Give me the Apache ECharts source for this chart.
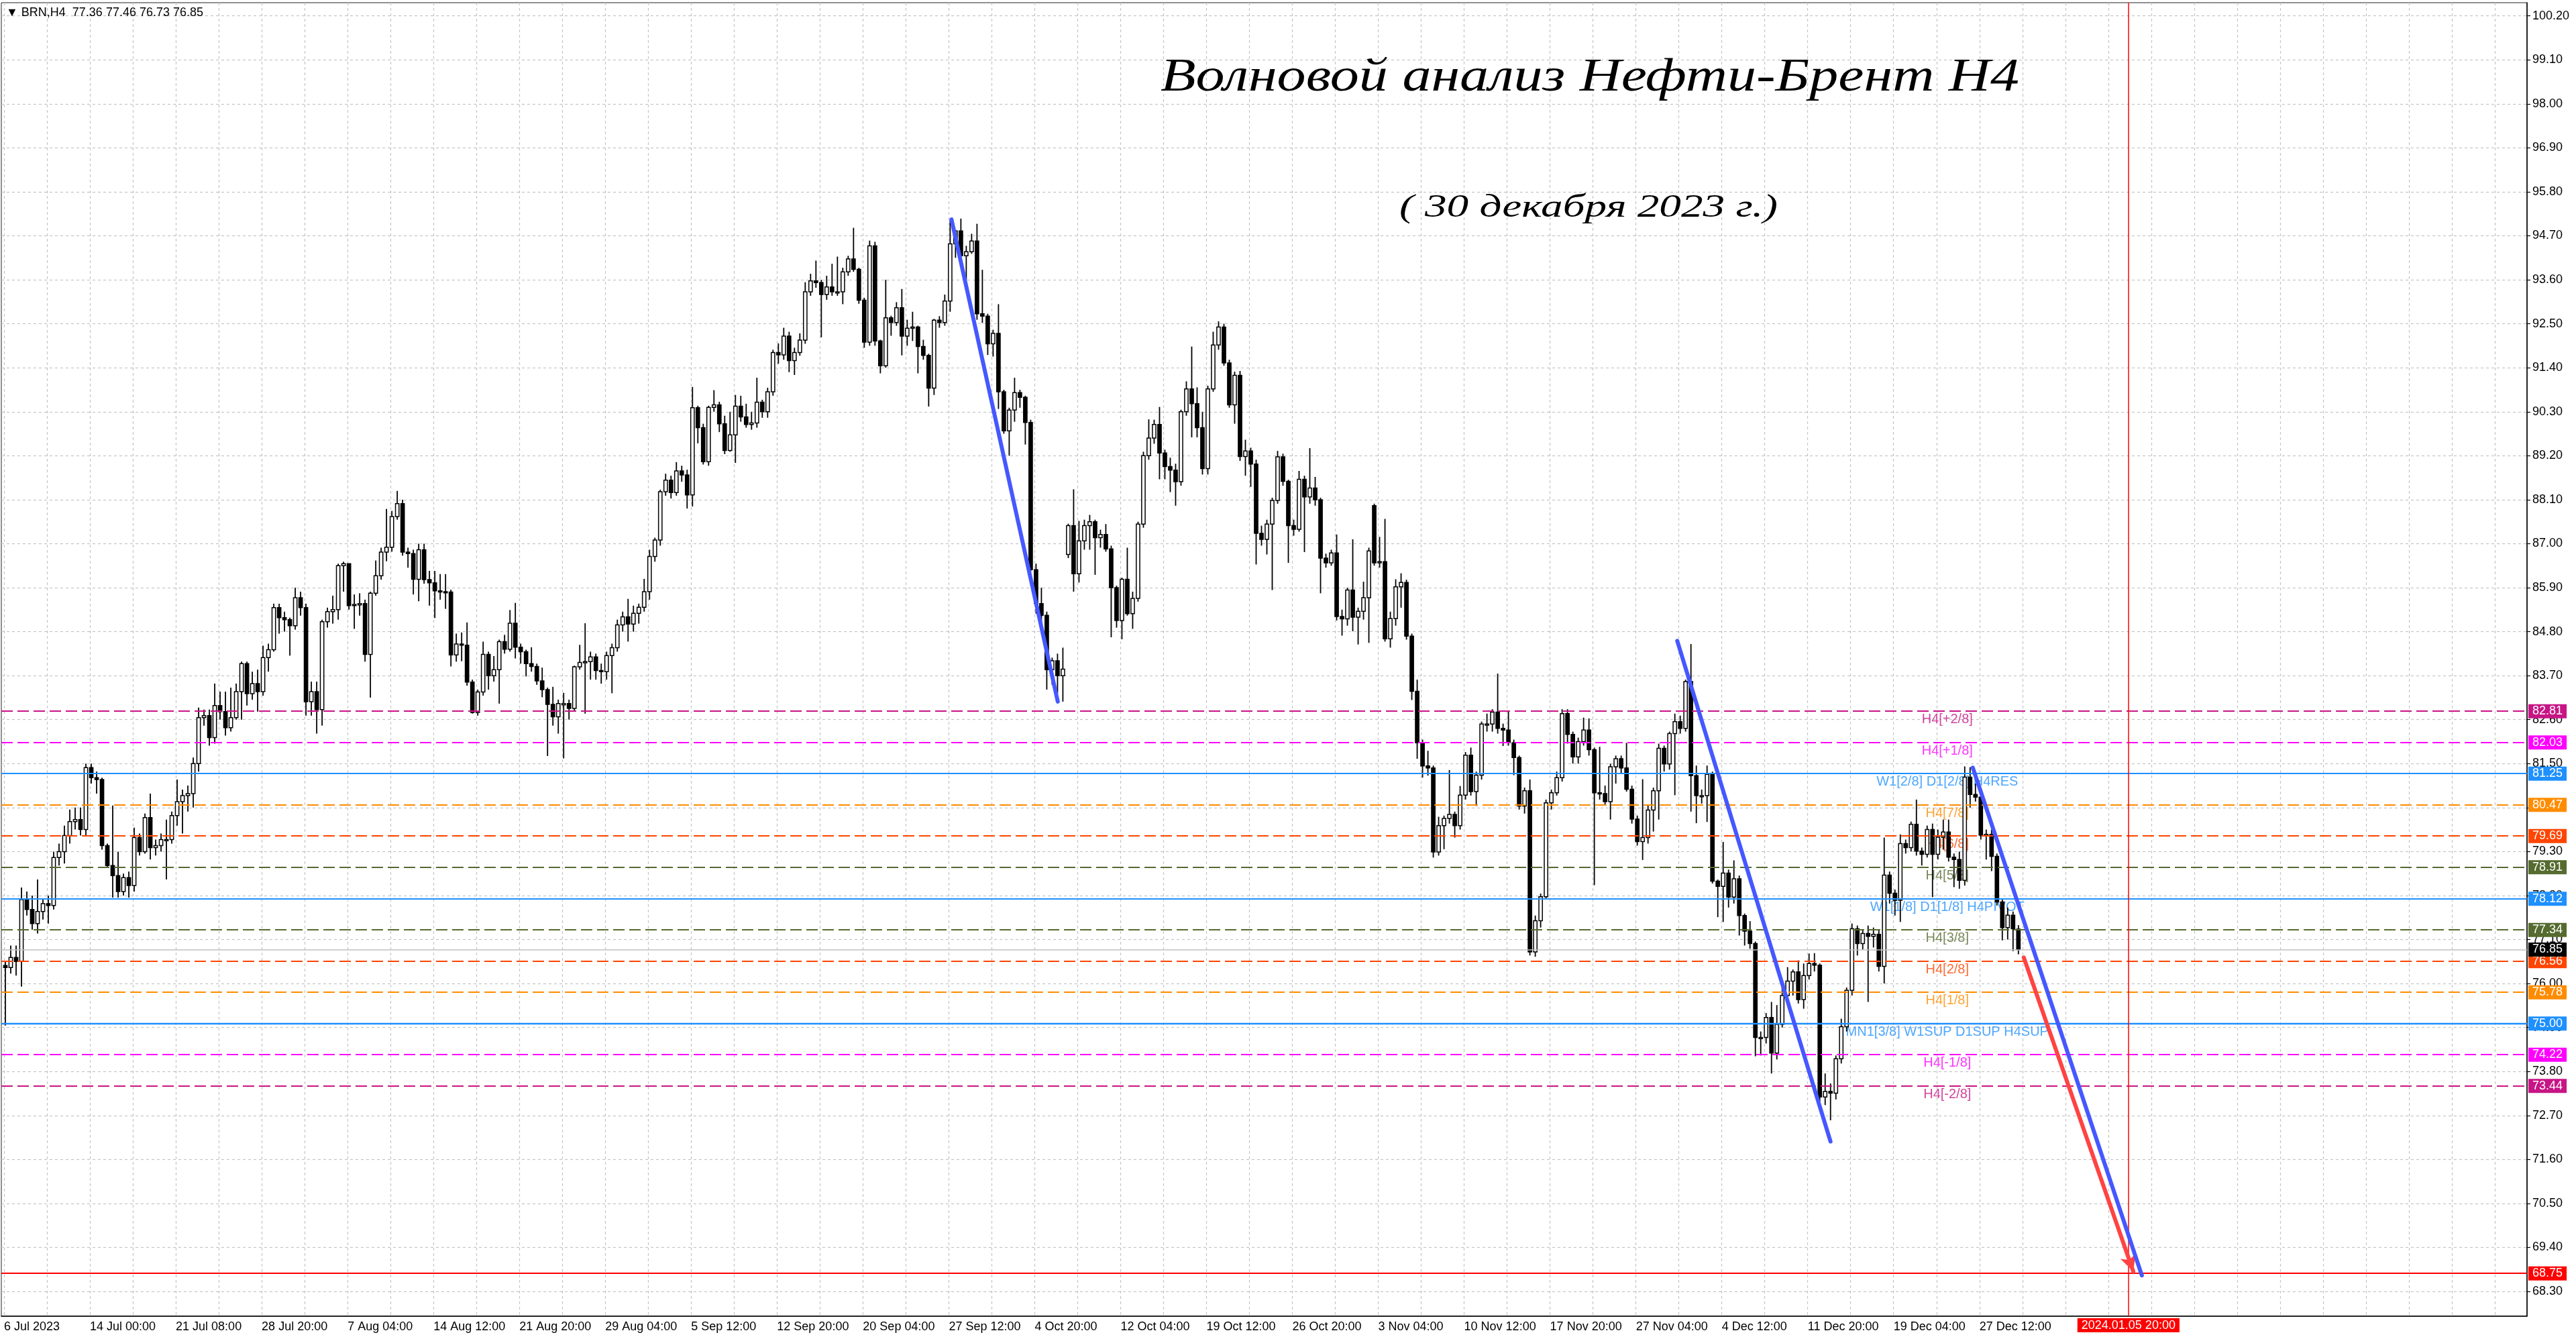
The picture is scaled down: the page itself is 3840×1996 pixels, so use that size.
<!DOCTYPE html>
<html><head><meta charset="utf-8">
<script src="https://cdn.jsdelivr.net/npm/echarts/dist/echarts.min.js"></script>
<style>html,body{margin:0;padding:0;background:#fff}#chart{width:3840px;height:1996px}</style>
</head><body><div id="chart"></div>
<script>
// ---------- texts ----------
const symbolInfo = '\u25BC BRN,H4  77.36 77.46 76.73 76.85';
const titleMain = 'Волновой анализ Нефти-Брент H4';
const titleDate = '( 30 декабря 2023 г.)';

// ---------- time axis (H4 bar index) ----------
const timeLabels = ['6 Jul 2023','14 Jul 00:00','21 Jul 08:00','28 Jul 20:00','7 Aug 04:00','14 Aug 12:00',
  '21 Aug 20:00','29 Aug 04:00','5 Sep 12:00','12 Sep 20:00','20 Sep 04:00','27 Sep 12:00','4 Oct 20:00',
  '12 Oct 04:00','19 Oct 12:00','26 Oct 20:00','3 Nov 04:00','10 Nov 12:00','17 Nov 20:00','27 Nov 04:00',
  '4 Dec 12:00','11 Dec 20:00','19 Dec 04:00','27 Dec 12:00'];
const barsPerLabel = 32;
const barsPerGrid = 16;
const barsPerCandle = 2;
const forecastBar = 791.5;
const forecastLabel = '2024.01.05 20:00';

// ---------- price axis ----------
const priceTicks = [68.30,69.40,70.50,71.60,72.70,73.80,74.90,76.00,77.10,78.20,79.30,80.40,81.50,82.60,83.70,
  84.80,85.90,87.00,88.10,89.20,90.30,91.40,92.50,93.60,94.70,95.80,96.90,98.00,99.10,100.20];

// ---------- candles [open, close, low, high] ----------
const candles = [
[76.45,76.4,74.95,76.55],[76.4,76.65,76.25,76.95],[76.65,76.55,76.2,76.95],[76.55,78.1,75.92,78.4],[78.1,77.85,77.7,78.3],
[77.85,77.5,77.35,78.2],[77.5,77.8,77.25,78.6],[77.8,78.0,77.6,78.1],[78.0,77.95,77.5,78.2],[77.95,79.15,77.85,79.3],
[79.15,79.3,78.95,79.5],[79.3,79.7,79.0,79.95],[79.7,80.05,79.5,80.35],[80.05,80.1,79.85,80.4],[80.1,79.85,79.7,80.4],
[79.85,81.4,79.7,81.5],[81.4,81.15,81.0,81.5],[81.15,81.1,80.75,81.3],[81.1,79.45,79.35,81.15],[79.45,78.95,78.9,79.5],
[78.95,78.7,78.15,80.45],[78.7,78.3,78.15,79.3],[78.3,78.65,78.2,78.75],[78.65,78.45,78.15,78.8],[78.45,79.65,78.3,79.9],
[79.65,79.3,79.2,79.75],[79.3,80.15,79.25,80.25],[80.15,79.4,79.1,80.75],[79.4,79.45,79.2,79.6],[79.45,79.6,79.3,79.75],
[79.6,79.6,78.6,80.1],[79.6,80.2,79.5,80.3],[80.2,80.55,79.95,81.1],[80.55,80.7,79.75,80.85],[80.7,80.75,80.3,80.95],
[80.75,81.5,80.4,81.65],[81.5,82.65,81.3,82.9],[82.65,82.7,82.45,82.85],[82.7,82.15,81.95,82.85],[82.15,82.95,82.0,83.5],
[82.95,82.8,82.6,83.3],[82.8,82.4,82.2,83.3],[82.4,82.65,82.3,83.4],[82.65,83.3,82.6,83.5],[83.3,84.0,82.6,84.05],
[84.0,83.25,82.95,84.05],[83.25,83.5,83.1,83.8],[83.5,83.3,82.8,83.85],[83.3,84.15,83.2,84.45],[84.15,84.35,83.8,84.5],
[84.35,85.4,84.3,85.5],[85.4,85.15,84.75,85.5],[85.15,85.1,84.8,85.3],[85.1,84.95,84.2,85.15],[84.95,85.65,84.85,85.9],
[85.65,85.4,85.2,85.8],[85.4,83.05,82.7,85.5],[83.05,83.3,82.7,83.55],[83.3,82.85,82.25,83.55],[82.85,85.05,82.45,85.1],
[85.05,85.3,84.9,85.4],[85.3,85.35,85.0,85.7],[85.35,86.45,85.1,86.5],[86.45,86.5,85.8,86.55],[86.5,85.45,85.35,86.5],
[85.45,85.48,84.87,85.73],[85.48,85.5,85.2,85.76],[85.5,84.23,84.05,85.6],[84.23,85.76,83.15,85.8],[85.76,86.2,85.7,86.58],
[86.2,86.79,86.1,86.9],[86.79,86.91,86.56,87.87],[86.91,87.68,86.8,87.82],[87.68,88.0,87.6,88.32],[88.0,86.79,86.7,88.1],
[86.79,86.75,86.4,86.9],[86.75,86.11,85.73,86.85],[86.11,86.85,85.56,87.0],[86.85,86.1,86.0,87.0],[86.1,86.02,85.45,86.32],
[86.02,85.82,85.14,86.32],[85.82,85.8,85.6,86.24],[85.8,85.79,85.37,86.24],[85.79,84.22,83.93,85.85],[84.22,84.49,84.05,84.75],
[84.49,84.46,84.06,84.78],[84.46,83.54,83.45,85.03],[83.54,82.78,82.75,83.6],[82.78,83.29,82.7,83.35],[83.29,84.23,83.2,84.55],
[84.23,83.7,83.35,84.3],[83.7,83.85,83.55,84.19],[83.85,84.55,83.0,84.6],[84.55,84.36,84.25,84.72],[84.36,85.01,84.3,85.34],
[85.01,84.41,84.13,85.52],[84.41,84.3,84.0,84.5],[84.3,84.0,83.68,84.35],[84.0,83.93,83.8,84.41],[83.93,83.57,83.47,84.0],
[83.57,83.35,83.16,83.9],[83.35,82.98,81.69,83.4],[82.98,82.67,82.45,83.42],[82.67,83.0,82.25,83.1],[83.0,83.0,81.63,83.27],
[83.0,82.88,82.6,83.1],[82.88,83.92,82.8,83.95],[83.92,84.03,83.85,84.47],[84.03,84.05,82.75,85.01],[84.05,84.17,83.6,84.3],
[84.17,83.83,83.6,84.25],[83.83,83.8,83.5,84.0],[83.8,84.2,83.6,84.3],[84.2,84.4,83.26,84.5],[84.4,84.97,84.3,85.1],
[84.97,85.17,84.8,85.3],[85.17,84.99,84.55,85.62],[84.99,85.26,84.8,85.45],[85.26,85.41,85.0,85.5],[85.41,85.8,85.3,86.12],
[85.8,86.68,85.6,86.85],[86.68,87.09,86.55,87.15],[87.09,88.3,86.95,88.35],[88.3,88.59,88.2,88.75],[88.59,88.28,88.13,88.7],
[88.28,88.82,88.2,89.04],[88.82,88.72,88.55,88.95],[88.72,88.22,87.88,88.85],[88.22,90.4,87.93,90.92],[90.4,89.9,89.51,90.45],
[89.9,89.05,88.98,90.0],[89.05,90.41,88.95,90.45],[90.41,90.47,90.3,90.84],[90.47,90.0,89.79,90.55],[90.0,89.33,89.24,90.2],
[89.33,89.72,89.3,90.3],[89.72,90.44,89.02,90.72],[90.44,90.17,90.05,90.7],[90.17,89.98,89.9,90.5],[89.98,90.02,89.85,90.3],
[90.02,90.54,89.9,91.15],[90.54,90.3,90.15,90.6],[90.3,90.8,90.15,90.9],[90.8,91.78,90.7,91.85],[91.78,91.72,91.5,92.01],
[91.72,92.19,91.6,92.4],[92.19,91.58,91.29,92.3],[91.58,91.78,91.22,91.9],[91.78,92.09,91.7,92.26],[92.09,93.3,92.0,93.54],
[93.3,93.57,93.2,93.75],[93.57,93.53,93.4,94.08],[93.53,93.23,92.16,93.6],[93.23,93.42,93.1,93.7],[93.42,93.3,93.2,94.0],
[93.3,93.3,93.2,94.18],[93.3,93.8,92.99,93.9],[93.8,94.12,93.7,94.2],[94.12,93.86,93.8,94.9],[93.86,93.09,93.0,93.9],
[93.09,92.04,91.9,93.15],[92.04,94.45,91.95,94.58],[94.45,92.07,91.95,94.55],[92.07,91.45,91.26,92.1],[91.45,92.65,91.4,93.6],
[92.65,92.53,92.2,92.7],[92.53,92.9,92.45,93.04],[92.9,92.19,91.71,93.37],[92.19,92.39,91.95,92.6],[92.39,92.42,92.07,92.8],
[92.42,91.93,91.26,92.45],[91.93,91.71,91.6,92.1],[91.71,90.89,90.43,91.75],[90.89,92.59,90.72,92.62],[92.59,92.53,92.4,92.69],
[92.53,93.07,92.45,93.23],[93.07,94.5,92.8,95.1],[94.5,94.82,94.15,94.85],[94.82,94.2,94.1,95.13],[94.2,94.3,93.6,94.45],
[94.3,94.57,94.25,94.75],[94.57,92.75,92.6,95.0],[92.75,92.69,92.52,93.85],[92.69,92.0,91.72,92.75],[92.0,92.26,91.68,92.35],
[92.26,90.8,90.37,92.99],[90.8,89.82,89.75,90.85],[89.82,90.34,89.2,90.4],[90.34,90.78,90.05,91.15],[90.78,90.66,90.4,90.85],
[90.66,90.03,89.48,90.7],[90.03,86.35,86.3,90.1],[86.35,85.5,85.25,86.5],[85.5,85.21,84.99,85.9],[85.21,83.85,83.35,85.3],
[83.85,84.07,83.47,84.15],[84.07,83.7,83.26,84.25],[83.7,83.86,83.05,84.4],[86.73,87.45,86.64,87.5],[87.45,86.25,85.8,88.36],
[86.25,87.07,86.03,87.57],[87.07,87.45,86.85,87.6],[87.45,87.55,86.85,87.72],[87.55,87.15,86.22,87.6],[87.15,87.23,86.9,87.35],
[87.23,86.87,86.8,87.49],[86.87,85.9,84.66,86.95],[85.9,85.08,84.9,85.95],[85.08,86.11,84.61,86.15],[86.11,85.25,85.2,86.9],
[85.25,85.63,84.87,85.8],[85.63,87.49,85.55,87.55],[87.49,89.2,87.4,89.3],[89.2,89.64,89.1,90.11],[89.64,89.98,89.5,90.1],
[89.98,89.27,88.61,90.42],[89.27,88.93,88.61,89.35],[88.93,88.84,88.29,89.15],[88.84,88.55,87.95,89.0],[88.55,90.3,88.45,90.35],
[90.3,90.87,90.2,91.06],[90.87,90.5,89.66,91.93],[90.5,89.9,89.66,90.91],[89.9,88.88,88.73,90.3],[88.88,90.87,88.73,90.95],
[90.87,91.97,90.8,92.3],[91.97,92.42,91.85,92.56],[92.42,91.52,91.45,92.5],[91.52,90.47,90.4,91.6],[90.47,91.21,90.0,91.3],
[91.21,89.18,89.07,91.32],[89.18,89.32,88.7,89.6],[89.32,88.99,88.42,89.4],[88.99,87.26,86.48,89.1],[87.26,87.11,86.95,87.45],
[87.11,87.49,86.73,87.6],[87.49,88.08,85.84,88.15],[88.08,89.17,88.0,89.32],[89.17,88.56,88.45,89.25],[88.56,87.45,86.52,88.6],
[87.45,87.36,87.2,87.6],[87.36,88.61,87.3,88.82],[88.61,88.17,86.79,88.7],[88.17,88.39,88.0,89.39],[88.39,88.1,87.95,88.67],
[88.1,86.64,85.76,88.15],[86.64,86.52,86.4,86.75],[86.52,86.77,86.45,86.85],[86.77,85.18,85.08,87.23],[85.18,85.12,84.7,85.35],
[85.12,85.84,84.95,85.9],[85.84,85.16,84.81,87.11],[85.16,85.31,84.48,85.4],[85.31,85.65,85.1,86.05],[85.65,86.82,84.52,86.9],
[87.95,86.52,86.45,88.0],[86.52,86.55,86.4,87.17],[86.55,84.62,84.55,87.62],[84.62,85.13,84.4,85.3],[85.13,85.92,84.95,86.11],
[85.92,86.03,85.4,86.26],[86.03,84.69,84.6,86.1],[84.69,83.31,83.09,84.75],[83.31,82.02,81.62,83.6],[82.02,81.44,81.15,82.1],
[81.44,81.39,81.2,81.82],[81.39,79.29,79.15,81.45],[79.29,79.95,79.2,80.17],[79.95,80.13,79.36,80.2],[80.13,80.23,80.0,81.34],
[80.23,79.95,79.65,80.3],[79.95,80.71,79.85,80.94],[80.71,81.71,80.6,81.79],[81.71,80.8,80.7,81.9],[80.8,81.21,80.44,81.3],
[81.21,82.49,81.1,82.55],[82.49,82.49,82.3,82.75],[82.49,82.79,82.3,82.86],[82.79,82.38,82.25,83.75],[82.38,82.34,81.94,82.5],
[82.34,82.02,81.95,82.82],[82.02,81.65,81.21,82.1],[81.65,80.44,80.35,81.7],[80.44,80.82,80.25,80.9],[80.82,76.79,76.7,81.1],
[76.79,77.57,76.67,77.7],[77.57,78.17,77.4,78.25],[78.17,80.52,78.1,80.6],[80.52,80.77,80.35,80.85],[80.77,81.15,80.7,81.3],
[81.15,82.75,81.05,82.86],[82.75,82.23,82.0,82.86],[82.23,81.67,81.5,82.3],[81.67,82.05,81.5,82.15],[82.05,82.34,81.95,82.65],
[82.34,81.85,81.7,82.63],[81.85,80.77,78.46,81.9],[80.77,80.75,80.6,81.92],[80.75,80.55,80.45,80.95],[80.55,81.42,80.1,81.5],
[81.42,81.62,81.0,81.7],[81.62,81.39,81.25,81.7],[81.39,80.86,80.8,82.02],[80.86,80.11,80.0,80.95],[80.11,79.55,79.45,80.2],
[79.55,79.65,79.09,81.11],[79.65,80.34,79.5,80.45],[80.34,80.82,79.8,80.9],[80.82,81.88,80.1,82.0],[81.88,81.49,81.3,81.95],
[81.49,82.25,81.35,82.3],[82.25,82.55,80.71,82.75],[82.55,82.38,82.25,82.7],[82.38,83.55,82.3,83.6],[83.55,81.2,80.3,84.49],
[81.2,80.7,80.01,81.45],[80.7,80.7,80.5,80.85],[80.7,81.23,80.04,81.45],[81.23,78.56,78.5,81.3],[78.56,78.43,77.66,78.6],
[78.43,78.76,77.54,79.54],[78.76,78.16,77.9,78.85],[78.16,78.62,78.0,79.08],[78.62,77.7,77.2,78.7],[77.7,77.31,76.95,77.75],
[77.31,77.0,76.87,77.56],[77.0,74.65,74.18,77.05],[74.65,74.65,74.2,74.8],[74.65,75.15,74.5,75.26],[75.15,74.26,73.75,75.54],
[74.26,74.98,74.1,75.46],[74.98,75.7,74.9,76.08],[75.7,76.06,75.6,76.41],[76.06,76.29,75.7,76.35],[76.29,75.6,75.5,76.58],
[75.6,76.2,75.37,76.5],[76.2,76.5,76.1,76.75],[76.5,76.46,76.3,76.76],[76.46,73.16,73.05,76.5],[73.16,73.3,72.96,73.75],
[73.3,73.26,72.58,73.5],[73.26,74.12,73.1,74.2],[74.12,74.92,74.0,75.12],[74.92,75.83,74.8,75.9],[75.83,77.37,75.7,77.5],
[77.37,77.0,76.7,77.45],[77.0,77.25,76.85,77.35],[77.25,77.18,75.54,77.45],[77.18,77.23,76.9,77.4],[77.23,76.43,76.3,77.35],
[76.43,78.71,76.0,79.65],[78.71,78.26,78.0,78.8],[78.26,78.08,77.7,78.35],[78.08,79.5,77.54,79.73],[79.5,79.4,79.25,79.6],
[79.4,79.98,79.3,80.05],[79.98,79.31,79.2,80.6],[79.31,79.23,78.95,79.4],[79.23,79.85,79.15,79.95],[79.85,79.23,78.16,80.0],
[79.23,79.66,79.1,79.85],[79.66,79.79,79.35,80.1],[79.79,79.16,79.05,80.1],[79.16,79.1,78.41,79.25],[79.1,78.58,78.37,79.3],
[78.58,81.16,78.45,81.43],[81.16,80.73,80.4,81.41],[80.73,80.66,80.55,81.0],[80.66,79.71,79.6,80.75],[79.71,79.73,79.1,79.85],
[79.73,79.18,78.81,79.85],[79.18,78.04,77.95,79.25],[78.04,77.4,77.08,78.1],[77.4,77.71,77.1,77.9],[77.71,77.37,76.81,77.8],
[77.36,76.85,76.73,77.46]
];

// ---------- Murrey levels ----------
const levelPrices = [82.81,82.03,81.25,80.47,79.69,78.91,78.12,77.34,76.56,75.78,75.00,74.22,73.44];
const levelNames = ['H4[+2/8]','H4[+1/8]','W1[2/8] D1[2/8] H4RES','H4[7/8]','H4[6/8]','H4[5/8]',
  'W1[1/8] D1[1/8] H4PIVOT','H4[3/8]','H4[2/8]','H4[1/8]','MN1[3/8] W1SUP D1SUP H4SUP','H4[-1/8]','H4[-2/8]'];
const levelColors = ['#C71585','#FF00FF','#1E90FF','#FF8C00','#FF4500','#556B2F','#1E90FF','#556B2F',
  '#FF4500','#FF8C00','#1E90FF','#FF00FF','#C71585'];
const levelSolid = [false,false,true,false,false,false,true,false,false,false,true,false,false];
const levelLabelBar = 724;
const bidPrice = 76.85;
const targetPrice = 68.75;

// ---------- drawn lines [bar1, price1, bar2, price2] ----------
const trendLines = [[353,95.11,392.6,83.05],[623.4,84.57,680.5,72.05],[733.5,81.40,796.5,68.7]];
const forecastArrow = [752.5,76.65,793.3,68.8];

// ---------- chart ----------
const FONT = "'Liberation Sans', 'DejaVu Sans', Arial, sans-serif";
const chart = echarts.init(document.getElementById('chart'), null, {renderer: 'canvas'});

const gridBars = [];
for (let b = 0; b <= 940; b += barsPerGrid) gridBars.push(b);
const labelBars = timeLabels.map((_, i) => i * barsPerLabel);

function measure(text, font) {
  const ctx = document.createElement('canvas').getContext('2d');
  ctx.font = font;
  return ctx.measureText(text).width;
}
const mainFont = 'italic 70px "Liberation Serif"';
const dateFont = 'italic 48px "Liberation Serif"';
const mainScale = 1280 / measure(titleMain, mainFont);
const dateScale = 564 / measure(titleDate, dateFont);

const boxLabel = (bg) => ({
  show: true, position: 'end', distance: 2, formatter: (p) => p.value.toFixed(2),
  backgroundColor: bg, color: '#fff', fontSize: 18, fontFamily: FONT, padding: [2, 6, 1, 6]
});

const levelMarks = levelPrices.map((p, i) => ({
  yAxis: p,
  lineStyle: {color: levelColors[i], type: levelSolid[i] ? 'solid' : [17, 7], width: i === 10 ? 2.4 : 1.8},
  label: boxLabel(levelColors[i])
}));
levelMarks.push({yAxis: bidPrice, lineStyle: {color: '#C0C0C0', type: 'solid', width: 1.5}, label: boxLabel('#000')});
levelMarks.push({yAxis: targetPrice, lineStyle: {color: '#FF0000', type: 'solid', width: 1.8}, label: boxLabel('#FF0000')});
levelMarks.push({xAxis: forecastBar, lineStyle: {color: '#FF0000', type: 'solid', width: 1.5},
  label: {show: true, position: 'start', distance: 3, formatter: forecastLabel, backgroundColor: '#FF0000',
    color: '#fff', fontSize: 18, fontFamily: FONT, padding: [2, 6, 1, 6]}});

const trendSeries = trendLines.map((t, i) => ({
  type: 'line', z: 6, silent: true, symbol: 'none', animation: false,
  data: [[t[0], t[1]], [t[2], t[3]]],
  lineStyle: {color: '#4558FF', width: 6, cap: 'round'},
  markLine: i === trendLines.length - 1 ? {
    silent: true, animation: false, symbol: ['none', 'arrow'], symbolSize: [18, 24],
    label: {show: false},
    lineStyle: {color: '#FF4343', width: 6, type: 'solid', cap: 'round'},
    data: [[{coord: [forecastArrow[0], forecastArrow[1]]}, {coord: [forecastArrow[2], forecastArrow[3]]}]]
  } : undefined
}));

const option = {
  backgroundColor: '#fff',
  animation: false,
  title: [{
    text: symbolInfo, left: 9, top: 10, padding: 0,
    textStyle: {fontSize: 18, fontWeight: 'normal', color: '#000', fontFamily: FONT}
  }],
  graphic: [
    {type: 'text', x: 2370, y: 117, scaleX: mainScale, z: 10, silent: true,
     style: {text: titleMain, font: mainFont, fill: '#000', textAlign: 'center', textVerticalAlign: 'middle',
       shadowColor: 'rgba(0,0,0,0.45)', shadowBlur: 8, shadowOffsetX: 3, shadowOffsetY: 8}},
    {type: 'text', x: 2368, y: 310, scaleX: dateScale, z: 10, silent: true,
     style: {text: titleDate, font: dateFont, fill: '#000', textAlign: 'center', textVerticalAlign: 'middle',
       shadowColor: 'rgba(0,0,0,0.45)', shadowBlur: 8, shadowOffsetX: 3, shadowOffsetY: 8}}
  ],
  grid: {left: 2, right: 73, top: 4, bottom: 34, show: true, borderColor: '#222', borderWidth: 1,
    containLabel: false, outerBoundsMode: 'none'},
  xAxis: {
    type: 'value', min: -1, max: 940,
    axisLine: {show: true, onZero: false, lineStyle: {color: '#000', width: 1.5}},
    axisTick: {show: false, customValues: gridBars},
    axisLabel: {customValues: labelBars, formatter: (v) => timeLabels[Math.round(v / barsPerLabel)] || '',
      align: 'left', margin: 7, fontSize: 18, color: '#000', fontFamily: FONT, hideOverlap: false},
    splitLine: {show: true, lineStyle: {color: '#C4C4C4', type: [4, 4], width: 1.2}}
  },
  yAxis: {
    type: 'value', position: 'right', min: 67.68, max: 100.53,
    axisLine: {show: true, onZero: false, lineStyle: {color: '#000', width: 1.5}},
    axisTick: {show: true, length: 5, customValues: priceTicks, lineStyle: {color: '#000', width: 1.2}},
    axisLabel: {customValues: priceTicks, formatter: (v) => v.toFixed(2), margin: 8, fontSize: 18,
      color: '#000', fontFamily: FONT, hideOverlap: false},
    splitLine: {show: true, lineStyle: {color: '#C4C4C4', type: [4, 4], width: 1.2}}
  },
  series: [
    {
      type: 'scatter', z: 3, silent: true, symbolSize: 1, clip: false,
      itemStyle: {color: 'rgba(0,0,0,0)'},
      data: levelPrices.map((p, i) => ({value: [levelLabelBar, p], label: {color: levelColors[i]}})),
      label: {show: true, position: 'bottom', distance: 2, fontSize: 20, fontFamily: FONT,
        formatter: (p) => levelNames[p.dataIndex]},
      markLine: {silent: true, animation: false, symbol: ['none', 'none'], data: levelMarks}
    },
    {
      type: 'custom', z: 4, silent: true,
      data: candles.map((c, i) => [i * barsPerCandle + (barsPerCandle - 1) / 2, c[0], c[1], c[2], c[3]]),
      encode: {x: 0, y: [1, 2, 3, 4]},
      renderItem: (params, api) => {
        const x = api.value(0), o = api.value(1), c = api.value(2), l = api.value(3), h = api.value(4);
        const pH = api.coord([x, h]), pL = api.coord([x, l]);
        const pO = api.coord([x, o]), pC = api.coord([x, c]);
        const w = api.size([1.3, 0])[0];
        const top = Math.min(pO[1], pC[1]);
        const ht = Math.max(Math.abs(pO[1] - pC[1]), 1.8);
        return {type: 'group', children: [
          {type: 'line', shape: {x1: pH[0], y1: pH[1], x2: pL[0], y2: pL[1]}, style: {stroke: '#000', lineWidth: 1.8}},
          {type: 'rect', shape: {x: pO[0] - w / 2, y: top, width: w, height: ht},
           style: {fill: c >= o ? '#fff' : '#000', stroke: '#000', lineWidth: 1.5}}
        ]};
      }
    },
    ...trendSeries
  ]
};
chart.setOption(option);
</script></body></html>
